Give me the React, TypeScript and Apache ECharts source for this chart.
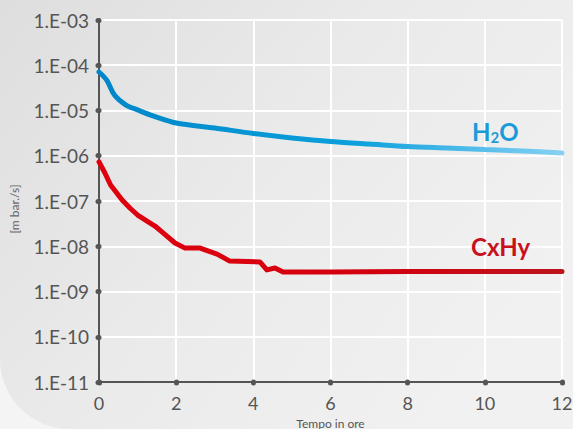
import React, { useEffect, useRef } from "react";
import * as echarts from "echarts";

// Time in hours
const h2oTime = [0, 0.2, 0.4, 0.7, 1, 1.4, 2, 3, 4, 5, 6, 7, 8, 9, 10, 11, 12];
// Leak rate H2O [mbar·l/s]
const h2oValues = [
  7.1e-5, 4.7e-5, 2.2e-5, 1.32e-5, 1.03e-5, 7.6e-6, 5.3e-6, 4.1e-6, 3.1e-6,
  2.47e-6, 2.06e-6, 1.82e-6, 1.6e-6, 1.48e-6, 1.37e-6, 1.27e-6, 1.15e-6,
];

const cxhyTime = [
  0, 0.15, 0.3, 0.6, 0.8, 1, 1.45, 1.63, 1.97, 2.23, 2.62, 3.06, 3.39, 4.17,
  4.35, 4.56, 4.77, 6, 8, 10, 12,
];
const cxhyValues = [
  7.3e-7, 4.2e-7, 2.26e-7, 1.05e-7, 7e-8, 4.9e-8, 2.8e-8, 2.07e-8, 1.18e-8,
  9.1e-9, 9.1e-9, 6.7e-9, 4.7e-9, 4.5e-9, 3.0e-9, 3.3e-9, 2.7e-9, 2.7e-9,
  2.75e-9, 2.75e-9, 2.75e-9,
];

const xTicks = [0, 2, 4, 6, 8, 10, 12];
const yMinExp = -11;
const yMaxExp = -3;

const FONT = "Lato, 'Open Sans', sans-serif";

export default function App() {
  const ref = useRef<HTMLDivElement>(null);

  useEffect(() => {
    document.body.style.margin = "0";
    if (!ref.current) return;
    const chart = echarts.init(ref.current, undefined, { renderer: "svg" });

    const fmtY = (v: number) => {
      const e = Math.round(Math.log10(v));
      return "1.E" + (e < 0 ? "-" : "+") + String(Math.abs(e)).padStart(2, "0");
    };

    const option: any = {
      animation: false,
      backgroundColor: "#f4f4f4",
      graphic: [
        {
          type: "rect",
          z: -10,
          silent: true,
          shape: { x: 0, y: 0, width: 573, height: 429, r: [0, 0, 0, 70] },
          style: {
            fill: new echarts.graphic.LinearGradient(0, 0, 1, 0.6, [
              { offset: 0, color: "#dedede" },
              { offset: 0.5, color: "#eaeaea" },
              { offset: 1, color: "#f1f1f1" },
            ]),
          },
        },
        {
          type: "text",
          x: 14,
          y: 209,
          z: 10,
          rotation: Math.PI / 2,
          style: {
            text: "[m bar./s]",
            fill: "#666",
            font: `12px ${FONT}`,
            textAlign: "center",
            textVerticalAlign: "middle",
          },
        },
        {
          type: "text",
          x: 472,
          y: 131,
          z: 10,
          style: {
            text: "{a|H}{b|2}{a|O}",
            textAlign: "left",
            textVerticalAlign: "middle",
            rich: {
              a: {
                fontFamily: FONT,
                fontSize: 24,
                fontWeight: "bold",
                fill: "#1a9bd7",
                lineHeight: 30,
              },
              b: {
                fontFamily: FONT,
                fontSize: 15,
                fontWeight: "bold",
                fill: "#1a9bd7",
                lineHeight: 30,
                padding: [12, 0, 0, 0],
              },
            },
          },
        },
        {
          type: "text",
          x: 471,
          y: 246,
          z: 10,
          style: {
            text: "CxHy",
            fill: "#c8101e",
            font: `bold 24px ${FONT}`,
            textAlign: "left",
            textVerticalAlign: "middle",
          },
        },
      ],
      grid: {
        left: 99,
        right: 11,
        top: 20,
        bottom: 47,
        containLabel: false,
        outerBoundsMode: "none",
      },
      xAxis: {
        type: "value",
        min: xTicks[0],
        max: xTicks[xTicks.length - 1],
        interval: 2,
        name: "Tempo in ore",
        nameLocation: "middle",
        nameGap: 35,
        nameMoveOverlap: false,
        nameTextStyle: {
          color: "#555",
          fontFamily: FONT,
          fontSize: 12,
          lineHeight: 12,
        },
        axisLine: { show: true, lineStyle: { color: "#555", width: 2 } },
        axisTick: {
          show: true,
          length: 1,
          lineStyle: { color: "#555", width: 5, cap: "round" },
        },
        axisLabel: {
          color: "#555",
          fontFamily: FONT,
          fontSize: 18,
          lineHeight: 16,
          margin: 13,
        },
        splitLine: { show: true, lineStyle: { color: "#ffffff", width: 2 } },
      },
      yAxis: {
        type: "log",
        logBase: 10,
        min: Math.pow(10, yMinExp),
        max: Math.pow(10, yMaxExp),
        interval: 1,
        axisLine: { show: true, lineStyle: { color: "#555", width: 2 } },
        axisTick: {
          show: true,
          length: 1,
          lineStyle: { color: "#555", width: 5, cap: "round" },
        },
        axisLabel: {
          color: "#555",
          fontFamily: FONT,
          fontSize: 19,
          margin: 10,
          formatter: fmtY,
        },
        splitLine: { show: true, lineStyle: { color: "#ffffff", width: 2 } },
      },
      series: [
        {
          name: "H2O",
          type: "line",
          showSymbol: false,
          smooth: 0.3,
          data: h2oTime.map((t, i) => [t, h2oValues[i]]),
          lineStyle: {
            width: 5,
            cap: "round",
            color: new echarts.graphic.LinearGradient(0, 0, 1, 0, [
              { offset: 0, color: "#0086c8" },
              { offset: 0.55, color: "#0aa0dc" },
              { offset: 1, color: "#86d1f3" },
            ]),
          },
          z: 3,
        },
        {
          name: "CxHy",
          type: "line",
          showSymbol: false,
          smooth: false,
          data: cxhyTime.map((t, i) => [t, cxhyValues[i]]),
          lineStyle: {
            width: 5,
            cap: "round",
            join: "round",
            color: new echarts.graphic.LinearGradient(0, 0, 1, 0, [
              { offset: 0, color: "#e0000e" },
              { offset: 0.6, color: "#d2000f" },
              { offset: 1, color: "#bd141d" },
            ]),
          },
          z: 3,
        },
      ],
    };

    chart.setOption(option);
    return () => chart.dispose();
  }, []);

  return (
    <div
      ref={ref}
      style={{ position: "fixed", left: 0, top: 0, width: 573, height: 429 }}
    />
  );
}
